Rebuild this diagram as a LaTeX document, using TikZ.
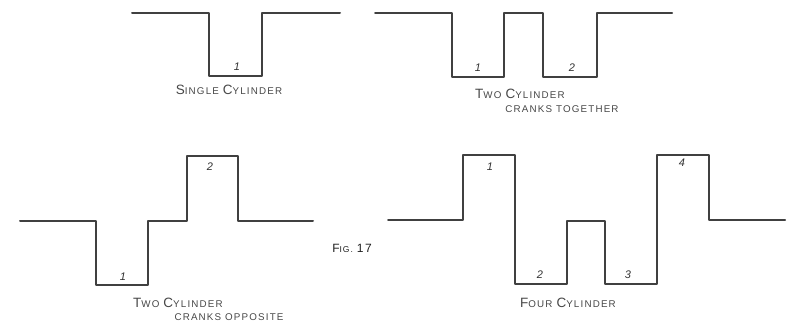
\documentclass[tikz,border=0pt]{standalone}
\usepackage{fontspec}
\setmainfont{Liberation Sans}
\newfontfamily\letterfont[LetterSpace=12]{Liberation Sans}
% hand-lettered small capitals: a tall first letter and short capitals after it
\newcommand\tallcap[1]{{\fontsize{13.5}{13.5}\selectfont #1}}
\newcommand\lowcap[1]{{\fontsize{9.8}{9.8}\selectfont #1}}
\begin{document}
\begin{tikzpicture}[x=1pt,y=-1pt,
  wave/.style={draw=black!75,line width=2pt,line join=round,line cap=round},
  caption/.style={text=black!72,inner sep=0pt,font=\letterfont},
  num/.style={text=black!80,inner sep=0pt,font=\fontsize{11}{11}\selectfont\itshape}]
\useasboundingbox (0,0) rectangle (789,323);

% single cylinder
\draw[wave] (132,13) -- (209,13) -- (209,76) -- (262,76) -- (262,13) -- (340,13);
\node[num] (s1) at (237,67) {1};
\node[caption] (sc) at (229,90) {\tallcap{S}\lowcap{INGLE} \tallcap{C}\lowcap{YLINDER}};

% two cylinders, cranks together
\draw[wave] (375,13) -- (452,13) -- (452,77) -- (504,77) -- (504,13)
  -- (543,13) -- (543,77) -- (597,77) -- (597,13) -- (672,13);
\node[num] (t1) at (478,68) {1};
\node[num] (t2) at (572,68) {2};
\node[caption] (tc1) at (520,94) {\tallcap{T}\lowcap{WO} \tallcap{C}\lowcap{YLINDER}};
\node[caption] (tc2) at (562,109) {\lowcap{CRANKS TOGETHER}};

% two cylinders, cranks opposite
\draw[wave] (20,221) -- (96,221) -- (96,285) -- (148,285) -- (148,221)
  -- (187,221) -- (187,156) -- (238,156) -- (238,221) -- (313,221);
\node[num] (o1) at (123,277) {1};
\node[num] (o2) at (210,167) {2};
\node[caption] (oc1) at (178,303) {\tallcap{T}\lowcap{WO} \tallcap{C}\lowcap{YLINDER}};
\node[caption] (oc2) at (229,317) {\lowcap{CRANKS OPPOSITE}};

% figure number
\node[caption,text=black!88] (fig) at (352,248)
  {{\fontsize{12}{12}\selectfont F}{\fontsize{8.5}{8.5}\selectfont IG.}\ {\fontsize{12}{12}\selectfont 17}};

% four cylinders
\draw[wave] (388,220) -- (463,220) -- (463,155) -- (515,155) -- (515,284)
  -- (567,284) -- (567,221) -- (605,221) -- (605,284) -- (657,284)
  -- (657,155) -- (709,155) -- (709,220) -- (785,220);
\node[num] (f1) at (490,167) {1};
\node[num] (f2) at (540,275) {2};
\node[num] (f3) at (628,275) {3};
\node[num] (f4) at (682,163) {4};
\node[caption] (fc) at (568,303) {\tallcap{F}\lowcap{OUR} \tallcap{C}\lowcap{YLINDER}};
\end{tikzpicture}
\end{document}
